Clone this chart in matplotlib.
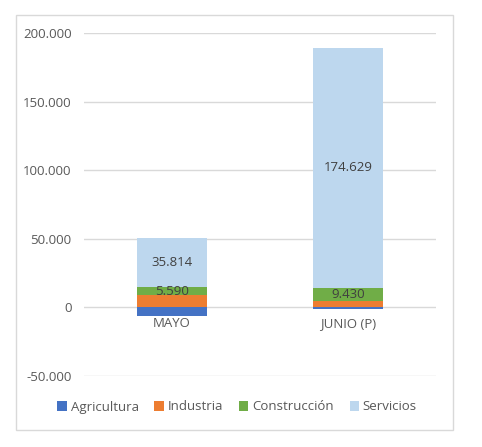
import matplotlib.pyplot as plt
from matplotlib.patches import Rectangle

meses = ["MAYO", "JUNIO (P)"]
series = ["Agricultura", "Industria", "Construcción", "Servicios"]
agricultura = [-6000, -1000]
industria = [9000, 5000]
construccion = [5590, 9430]
servicios = [35814, 174629]
colores = ["#4472C4", "#ED7D31", "#70AD47", "#BDD7EE"]
yticks = [-50000, 0, 50000, 100000, 150000, 200000]

plt.rcParams["font.family"] = ["Open Sans", "DejaVu Sans"]
gris = "#595959"


def fmt(v):
    return f"{v:,.0f}".replace(",", ".")


fig = plt.figure(figsize=(4.82, 4.47), dpi=100)
fig.patches.append(Rectangle((16 / 482, 1 - 430 / 447), 437 / 482, 415 / 447,
                             transform=fig.transFigure, fill=False,
                             edgecolor="#D9D9D9", lw=1))
ax = fig.add_axes([84 / 482, 1 - 376 / 447, 352 / 482, 343 / 447])

x = list(range(len(meses)))
w = 0.4
ax.bar(x, agricultura, w, color=colores[0], label=series[0], zorder=3)
ax.bar(x, industria, w, color=colores[1], label=series[1], zorder=3)
b_con = [i for i in industria]
ax.bar(x, construccion, w, bottom=b_con, color=colores[2], label=series[2], zorder=3)
b_ser = [i + c for i, c in zip(industria, construccion)]
ax.bar(x, servicios, w, bottom=b_ser, color=colores[3], label=series[3], zorder=3)

for i in x:
    ax.text(i, b_con[i] + construccion[i] / 2, fmt(construccion[i]),
            ha="center", va="center", fontsize=9.5, color="#404040", zorder=4)
    ax.text(i, b_ser[i] + servicios[i] / 2, fmt(servicios[i]),
            ha="center", va="center", fontsize=9.5, color="#404040", zorder=4)
    ax.annotate(meses[i], (i, 0), xytext=(0, -7), textcoords="offset points",
                ha="center", va="top", fontsize=9.5, color=gris)

ax.set_xlim(-0.5, 1.5)
ax.set_ylim(-50000, 200000)
ax.set_yticks(yticks)
ax.set_yticklabels([fmt(v) for v in yticks], fontsize=9.5, color=gris)
ax.set_xticks([])
ax.tick_params(axis="y", length=0, pad=9)
ax.grid(axis="y", color="#D9D9D9", lw=1, zorder=0)
for s in ax.spines.values():
    s.set_visible(False)

fig.legend(loc="center", bbox_to_anchor=(0.492, 1 - 407 / 447), ncol=4,
           frameon=False, fontsize=9.5, handlelength=0.7, handleheight=0.7,
           handletextpad=0.3, columnspacing=1.2, labelcolor=gris)

fig.savefig("out.png", dpi=100)
